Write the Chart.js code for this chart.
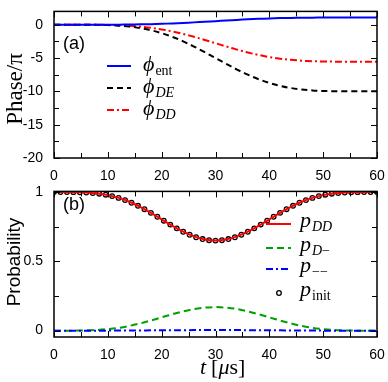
<!DOCTYPE html>
<html>
<head>
<meta charset="utf-8">
<script src="https://cdn.jsdelivr.net/npm/chart.js@4"></script>
<style>
  body { margin: 0; background: #fff; }
  .wrap { position: relative; width: 388px; height: 382px; }
  canvas { position: absolute; left: 0; }
</style>
</head>
<body>
<div class="wrap">
  <canvas id="phase" width="388" height="180" style="top:0"></canvas>
  <canvas id="prob" width="388" height="202" style="top:180px"></canvas>
</div>
<script>
// time grid for the lines (us)
const tLine = [0, 2, 4, 6, 8, 10, 12, 14, 16, 18, 20, 22, 24, 26, 28, 30,
  32, 34, 36, 38, 40, 42, 44, 46, 48, 50, 52, 54, 56, 58, 60];

// panel (a): phases / pi
const phiEnt = [0, 0, 0, 0.001, 0.002, 0.006, 0.015, 0.03, 0.054, 0.089, 0.137, 0.197, 0.27, 0.353, 0.445, 0.54,
  0.635, 0.727, 0.81, 0.883, 0.943, 0.991, 1.026, 1.05, 1.065, 1.074, 1.078, 1.079, 1.08, 1.08, 1.08];
const phiDE = [0, 0, 0, -0.005, -0.02, -0.059, -0.138, -0.278, -0.501, -0.826, -1.266, -1.826, -2.5, -3.273, -4.118, -5,
  -5.882, -6.727, -7.5, -8.174, -8.734, -9.174, -9.499, -9.722, -9.862, -9.941, -9.98, -9.995, -9.999, -10, -10];
const phiDD = [0, 0, 0, -0.003, -0.011, -0.033, -0.076, -0.154, -0.278, -0.458, -0.703, -1.013, -1.388, -1.816, -2.285, -2.775,
  -3.265, -3.733, -4.163, -4.537, -4.847, -5.092, -5.272, -5.396, -5.474, -5.517, -5.539, -5.547, -5.55, -5.55, -5.55];

// panel (b): probabilities
const pDD = [1, 1, 0.999, 0.997, 0.99, 0.978, 0.958, 0.93, 0.893, 0.85, 0.803, 0.756, 0.714, 0.68, 0.658, 0.65,
  0.658, 0.68, 0.714, 0.756, 0.803, 0.85, 0.893, 0.93, 0.958, 0.978, 0.99, 0.997, 0.999, 1, 1];
const pDm = [0, 0, 0, 0.002, 0.005, 0.011, 0.02, 0.034, 0.052, 0.073, 0.096, 0.118, 0.139, 0.156, 0.166, 0.17,
  0.166, 0.156, 0.139, 0.118, 0.096, 0.073, 0.052, 0.034, 0.02, 0.011, 0.005, 0.002, 0, 0, 0];
const pMm = [0, 0, 0, 0, 0, 0, 0.001, 0.001, 0.001, 0.002, 0.002, 0.003, 0.003, 0.004, 0.004, 0.004,
  0.004, 0.004, 0.003, 0.003, 0.002, 0.002, 0.001, 0.001, 0.001, 0, 0, 0, 0, 0, 0];

// open circles: p_init
const tInit = [0, 1.2, 2.4, 3.6, 4.8, 6, 7.2, 8.4, 9.6, 10.8, 12, 13.2, 14.4, 15.6, 16.8, 18, 19.2, 20.4, 21.6, 22.8, 24,
  25.2, 26.4, 27.6, 28.8, 30, 31.2, 32.4, 33.6, 34.8, 36, 37.2, 38.4, 39.6, 40.8, 42, 43.2, 44.4, 45.6, 46.8, 48,
  49.2, 50.4, 51.6, 52.8, 54, 55.2, 56.4, 57.6, 58.8, 60];
const pInit = [1, 1, 1, 0.9996, 0.9987, 0.9968, 0.9936, 0.9885, 0.9811, 0.9711, 0.9582, 0.9422, 0.9231, 0.9012, 0.8766,
  0.8501, 0.8221, 0.7936, 0.7654, 0.7384, 0.7137, 0.692, 0.6741, 0.6609, 0.6527, 0.65, 0.6527, 0.6609, 0.6741, 0.692,
  0.7137, 0.7384, 0.7654, 0.7936, 0.8221, 0.8501, 0.8766, 0.9012, 0.9231, 0.9422, 0.9582, 0.9711, 0.9811, 0.9885,
  0.9936, 0.9968, 0.9987, 0.9996, 1, 1, 1];

const xTicks = [0, 10, 20, 30, 40, 50, 60];
const xMinor = [5, 15, 25, 35, 45, 55];
const yTicksA = [-20, -15, -10, -5, 0];
const yMinorA = [-17.5, -12.5, -7.5, -2.5];
const yTicksB = [0, 0.5, 1];
const yMinorB = [0.25, 0.75];

const pts = (xs, ys) => xs.map((x, i) => ({ x: x, y: ys[i] }));

const SANS = '"Liberation Sans", Arial, sans-serif';
const SERIF = '"Liberation Serif", "DejaVu Serif", "Times New Roman", serif';

// ticks pointing inward on all four sides + frame
const frameTicks = {
  id: 'frameTicks',
  afterDatasetsDraw(chart, args, o) {
    const { ctx, chartArea: a, scales: { x, y } } = chart;
    ctx.save();
    ctx.strokeStyle = '#000';
    ctx.lineWidth = 1;
    ctx.beginPath();
    const xt = (vals, len) => vals.forEach(v => {
      const px = Math.round(x.getPixelForValue(v)) + 0.5;
      ctx.moveTo(px, a.bottom); ctx.lineTo(px, a.bottom - len);
      ctx.moveTo(px, a.top); ctx.lineTo(px, a.top + len);
    });
    const yt = (vals, len) => vals.forEach(v => {
      const py = Math.round(y.getPixelForValue(v)) + 0.5;
      ctx.moveTo(a.left, py); ctx.lineTo(a.left + len, py);
      ctx.moveTo(a.right, py); ctx.lineTo(a.right - len, py);
    });
    xt(xTicks, 6); xt(xMinor, 5);
    yt(o.yMajor, 6); yt(o.yMinor, 5);
    ctx.stroke();
    ctx.lineWidth = 1.5;
    ctx.strokeRect(a.left, a.top, a.right - a.left, a.bottom - a.top);
    ctx.restore();
  }
};

// draws a run of text pieces: [text, font, dy, extra gap]
function runText(ctx, x, y, parts) {
  parts.forEach(p => {
    ctx.font = p[1];
    ctx.fillText(p[0], x, y + (p[2] || 0));
    x += ctx.measureText(p[0]).width + (p[3] || 0);
  });
}

const notesA = {
  id: 'notesA',
  afterDraw(chart) {
    const ctx = chart.ctx;
    ctx.save();
    ctx.fillStyle = '#000';
    ctx.textBaseline = 'middle';
    ctx.font = '18px ' + SANS;
    ctx.fillText('(a)', 63, 44);
    // y title
    ctx.save();
    ctx.translate(16, 89);
    ctx.rotate(-Math.PI / 2);
    ctx.textAlign = 'center';
    ctx.font = '23px ' + SERIF;
    ctx.fillText('Phase/π', 0, 0);
    ctx.restore();
    // legend
    const rows = [
      { y: 66, color: '#0000ff', dash: [], sub: 'ent', subFont: '14px ' + SERIF },
      { y: 88, color: '#000', dash: [6, 4], sub: 'DE', subFont: 'italic 14px ' + SERIF },
      { y: 110, color: '#ff0000', dash: [7, 3, 2, 3], sub: 'DD', subFont: 'italic 14px ' + SERIF }
    ];
    rows.forEach(r => {
      ctx.strokeStyle = r.color;
      ctx.lineWidth = 2;
      ctx.setLineDash(r.dash);
      ctx.beginPath();
      ctx.moveTo(107, r.y); ctx.lineTo(131, r.y);
      ctx.stroke();
      ctx.setLineDash([]);
      runText(ctx, 143, r.y - 1, [['ϕ', 'italic 22px ' + SERIF, 0, 1], [r.sub, r.subFont, 6]]);
    });
    ctx.restore();
  }
};

const notesB = {
  id: 'notesB',
  afterDraw(chart) {
    const ctx = chart.ctx;
    ctx.save();
    ctx.fillStyle = '#000';
    ctx.textBaseline = 'middle';
    ctx.font = '18px ' + SANS;
    ctx.fillText('(b)', 63, 25);
    ctx.save();
    ctx.translate(15, 82);
    ctx.rotate(-Math.PI / 2);
    ctx.textAlign = 'center';
    ctx.font = '19px ' + SANS;
    ctx.fillText('Probability', 0, 0);
    ctx.restore();
    // x title
    runText(ctx, 200, 188, [['t', 'italic 22px ' + SERIF, 0, 5], ['[', '22px ' + SERIF], ['μ', 'italic 22px ' + SERIF], ['s]', '22px ' + SERIF]]);
    const it = 'italic 22px ' + SERIF, si = 'italic 14px ' + SERIF, su = '14px ' + SERIF;
    const rows = [
      { y: 44, color: '#ff0000', dash: [], parts: [['p', it, 0, 1], ['DD', si, 6]] },
      { y: 68, color: '#00a000', dash: [7, 4], parts: [['p', it, 0, 1], ['D', si, 6], ['−', su, 6]] },
      { y: 89, color: '#0000ff', dash: [7, 3, 2, 3], parts: [['p', it, 0, 1], ['−−', su, 6]] },
      { y: 113, color: null, parts: [['p', it, 0, 1], ['init', su, 6]] }
    ];
    rows.forEach(r => {
      if (r.color) {
        ctx.strokeStyle = r.color;
        ctx.lineWidth = 2;
        ctx.setLineDash(r.dash);
        ctx.beginPath();
        ctx.moveTo(266, r.y); ctx.lineTo(291, r.y);
        ctx.stroke();
        ctx.setLineDash([]);
      } else {
        ctx.strokeStyle = '#000';
        ctx.lineWidth = 1.3;
        ctx.beginPath();
        ctx.arc(279, r.y, 2.3, 0, Math.PI * 2);
        ctx.stroke();
      }
      runText(ctx, 300, r.y - 3, r.parts);
    });
    ctx.restore();
  }
};

function baseOptions(ymin, ymax, yTicks, padTop, xHeight) {
  return {
    responsive: false,
    animation: false,
    events: [],
    layout: { padding: { left: 0, right: 11, top: padTop, bottom: 0 } },
    plugins: { legend: { display: false }, tooltip: { enabled: false } },
    elements: { point: { radius: 0 }, line: { tension: 0.35 } },
    scales: {
      x: {
        type: 'linear', min: 0, max: 60,
        grid: { display: false }, border: { display: false },
        afterBuildTicks: s => { s.ticks = xTicks.map(v => ({ value: v })); },
        afterFit: s => { s.height = xHeight; },
        ticks: { color: '#000', padding: 2, maxRotation: 0, font: { family: SANS, size: 14 } }
      },
      y: {
        min: ymin, max: ymax,
        grid: { display: false }, border: { display: false },
        afterBuildTicks: s => { s.ticks = yTicks.map(v => ({ value: v })); },
        afterFit: s => { s.width = 54; },
        ticks: { color: '#000', padding: 3, font: { family: SANS, size: 14 } }
      }
    }
  };
}

const optsA = baseOptions(-20, 2, yTicksA, 5, 22);
optsA.plugins.frameTicks = { yMajor: yTicksA, yMinor: yMinorA };
new Chart(document.getElementById('phase').getContext('2d'), {
  type: 'line',
  data: {
    datasets: [
      { data: pts(tLine, phiEnt), borderColor: '#0000ff', borderWidth: 2 },
      { data: pts(tLine, phiDE), borderColor: '#000000', borderWidth: 2, borderDash: [6, 4] },
      { data: pts(tLine, phiDD), borderColor: '#ff0000', borderWidth: 2, borderDash: [7, 3, 2, 3] }
    ]
  },
  options: optsA,
  plugins: [frameTicks, notesA]
});

const optsB = baseOptions(-0.046, 1.005, yTicksB, 4, 45);
optsB.plugins.frameTicks = { yMajor: yTicksB, yMinor: yMinorB };
optsB.scales.y.ticks.callback = v => (v === 0 || v === 1) ? String(v) : v.toFixed(1);
new Chart(document.getElementById('prob').getContext('2d'), {
  type: 'line',
  data: {
    datasets: [
      { data: pts(tLine, pMm), borderColor: '#0000ff', borderWidth: 2, borderDash: [7, 3, 2, 3] },
      { data: pts(tLine, pDm), borderColor: '#00a000', borderWidth: 2, borderDash: [7, 4] },
      { data: pts(tLine, pDD), borderColor: '#ff0000', borderWidth: 2 },
      { data: pts(tInit, pInit), showLine: false, pointRadius: 2.3, pointBorderWidth: 1.3,
        pointBorderColor: '#000', pointBackgroundColor: 'rgba(0,0,0,0)' }
    ]
  },
  options: optsB,
  plugins: [frameTicks, notesB]
});
</script>
</body>
</html>
